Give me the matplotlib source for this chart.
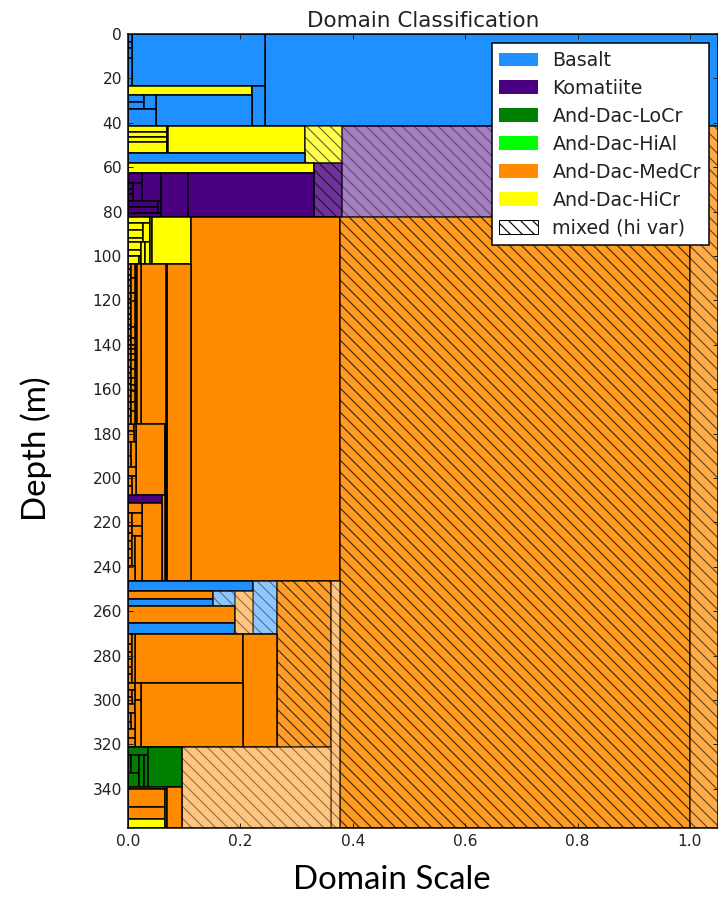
import matplotlib
matplotlib.use('Agg')
import matplotlib.pyplot as plt
from matplotlib.patches import Patch
from matplotlib.colors import to_rgba

# ---------------- data ----------------
# each domain: (scale_start, scale_end, depth_top, depth_bottom, class, mixed_alpha)
# mixed_alpha = 0 -> solid (not mixed); >0 -> mixed (hatched) with that opacity
class_names = ['Basalt', 'Komatiite', 'And-Dac-LoCr', 'And-Dac-HiAl', 'And-Dac-MedCr', 'And-Dac-HiCr']
class_codes = ['B', 'K', 'G', 'L', 'O', 'Y']
class_colors = ['#1E90FF', '#4B0082', '#008000', '#00FF00', '#FF8C00', '#FFFF00']

zone_top = [
    (0.243, 1.10, 0, 41.5, 'B', 0),
    (0.0066, 0.243, 0, 23.5, 'B', 0),
    (0, 0.0066, 0, 3.5, 'B', 0),
    (0, 0.0066, 3.5, 6.5, 'B', 0),
    (0, 0.0066, 6.5, 11, 'B', 0),
    (0, 0.0066, 11, 23.5, 'B', 0),
    (0, 0.221, 23.5, 27.7, 'Y', 0),
    (0.221, 0.243, 23.5, 41.5, 'B', 0),
    (0.05, 0.221, 27.7, 41.5, 'B', 0),
    (0, 0.029, 27.7, 30.8, 'B', 0),
    (0, 0.029, 30.8, 34, 'B', 0),
    (0.029, 0.05, 27.7, 34, 'B', 0),
    (0, 0.05, 34, 41.5, 'B', 0),
]

zone_hicr_kom = [
    (0, 0.069, 41.5, 44, 'Y', 0),
    (0, 0.069, 44, 46.2, 'Y', 0),
    (0, 0.069, 46.2, 48.8, 'Y', 0),
    (0, 0.069, 48.8, 53.5, 'Y', 0),
    (0.069, 0.072, 41.5, 53.5, 'Y', 0),
    (0.072, 0.315, 41.5, 53.5, 'Y', 0),
    (0.315, 0.381, 41.5, 58, 'Y', 0.7),
    (0, 0.315, 53.5, 58, 'B', 0),
    (0, 0.331, 58, 62.8, 'Y', 0),
    (0.331, 0.381, 58, 82.6, 'K', 0.8),
    (0.381, 1.0, 41.5, 82.6, 'K', 0.5),
    (0, 0.025, 62.8, 67.3, 'K', 0),
    (0, 0.0095, 67.3, 69.8, 'K', 0),
    (0, 0.0095, 69.8, 72, 'K', 0),
    (0, 0.0095, 72, 75.2, 'K', 0),
    (0.0095, 0.025, 67.3, 75.2, 'K', 0),
    (0.025, 0.059, 62.8, 75.2, 'K', 0),
    (0, 0.054, 75.2, 77.8, 'K', 0),
    (0, 0.054, 77.8, 80.8, 'K', 0),
    (0.054, 0.059, 75.2, 80.8, 'K', 0),
    (0, 0.059, 80.8, 82.6, 'K', 0),
    (0.059, 0.106, 62.8, 82.6, 'K', 0),
    (0.106, 0.331, 62.8, 82.6, 'K', 0),
]

zone_hicr2 = [
    (0, 0.039, 82.6, 85, 'Y', 0),
    (0, 0.027, 85, 88.3, 'Y', 0),
    (0, 0.027, 88.3, 92, 'Y', 0),
    (0, 0.027, 92, 93.5, 'Y', 0),
    (0.027, 0.039, 85, 93.5, 'Y', 0),
    (0, 0.023, 93.5, 97.3, 'Y', 0),
    (0, 0.023, 97.3, 100, 'Y', 0),
    (0, 0.02, 100, 103.6, 'Y', 0),
    (0.02, 0.023, 100, 103.6, 'Y', 0),
    (0.023, 0.031, 93.5, 103.6, 'Y', 0),
    (0.031, 0.039, 93.5, 103.6, 'Y', 0),
    (0.039, 0.042, 82.6, 103.6, 'Y', 0),
    (0.042, 0.112, 82.6, 103.6, 'Y', 0),
    (0.112, 0.377, 82.6, 246.3, 'O', 0),
    (0.377, 1.0, 82.6, 357.7, 'O', 0.88),
    (1.0, 1.10, 41.5, 357.7, 'O', 0.72),
]

zone_medcr = [
    (0.069, 0.112, 103.6, 246.3, 'O', 0),
    (0.067, 0.069, 103.6, 246.3, 'O', 0),
    (0.0225, 0.067, 103.6, 175.6, 'O', 0),
    (0.0125, 0.016, 103.6, 175.6, 'O', 0),
    (0.016, 0.0225, 103.6, 175.6, 'O', 0),
    (0.0137, 0.065, 175.6, 207.5, 'O', 0),
    (0.065, 0.067, 175.6, 246.3, 'O', 0),
    (0, 0.061, 207.5, 211.5, 'K', 0),
    (0.061, 0.065, 207.5, 246.3, 'O', 0),
    (0.025, 0.061, 211.5, 246.3, 'O', 0),
    (0, 0.01, 175.6, 179, 'O', 0),
    (0.01, 0.0137, 175.6, 184, 'O', 0),
    (0, 0.01, 179, 184, 'O', 0),
    (0, 0.006, 184, 190, 'O', 0),
    (0.006, 0.0137, 184, 195, 'O', 0),
    (0, 0.006, 190, 195, 'O', 0),
    (0, 0.0137, 195, 199, 'O', 0),
    (0, 0.007, 199, 203.5, 'O', 0),
    (0.007, 0.0137, 199, 207.5, 'O', 0),
    (0, 0.007, 203.5, 207.5, 'O', 0),
    (0, 0.025, 211.5, 216, 'O', 0),
    (0, 0.008, 216, 221.5, 'O', 0),
    (0.008, 0.025, 216, 221.5, 'O', 0),
    (0, 0.007, 221.5, 225, 'O', 0),
    (0.007, 0.025, 221.5, 226, 'O', 0),
    (0, 0.007, 225, 228.5, 'O', 0),
    (0, 0.007, 228.5, 232, 'O', 0),
    (0, 0.007, 232, 236, 'O', 0),
    (0, 0.007, 236, 239.5, 'O', 0),
    (0.007, 0.013, 226, 239.5, 'O', 0),
    (0.013, 0.025, 226, 246.3, 'O', 0),
    (0, 0.013, 239.5, 246.3, 'O', 0),
]

# fine MedCr domains in the narrowest scales, 103.6-175.6 m
fine_col1_scale = (0, 0.005)
fine_col1_depths = [103.6, 106, 108.5, 111, 113.5, 116.5, 119.5, 121, 123.5, 126, 128.5,
                    131, 133, 136, 138, 140, 142, 144, 147, 150, 152.5, 155, 157.5,
                    160.5, 163, 166, 169, 172, 175.6]
fine_col2_scale = (0.005, 0.0125)
fine_col2_depths = [103.6, 110, 116.5, 120.5, 132, 137, 140, 142, 144, 147, 151, 155,
                    158, 161, 166, 170, 175.6]

zone_lower = [
    (0, 0.223, 246.3, 251, 'B', 0),
    (0.223, 0.266, 246.3, 270.2, 'B', 0.5),
    (0.266, 0.362, 246.3, 321, 'O', 0.85),
    (0.362, 0.377, 246.3, 357.7, 'O', 0.5),
    (0, 0.151, 251, 254.7, 'O', 0),
    (0, 0.151, 254.7, 257.6, 'B', 0),
    (0.151, 0.19, 251, 257.6, 'B', 0.5),
    (0, 0.19, 257.6, 265.2, 'O', 0),
    (0, 0.19, 265.2, 270.2, 'B', 0),
    (0.19, 0.223, 251, 270.2, 'O', 0.5),
    (0.013, 0.204, 270.2, 292.3, 'O', 0),
    (0.204, 0.266, 270.2, 321, 'O', 0),
    (0.0226, 0.204, 292.3, 321, 'O', 0),
    (0, 0.008, 270.2, 274.8, 'O', 0),
    (0, 0.008, 274.8, 278.5, 'O', 0),
    (0, 0.008, 278.5, 281.5, 'O', 0),
    (0, 0.008, 281.5, 285.3, 'O', 0),
    (0, 0.008, 285.3, 288.3, 'O', 0),
    (0, 0.008, 288.3, 292.3, 'O', 0),
    (0.008, 0.013, 270.2, 292.3, 'O', 0),
    (0, 0.0125, 292.3, 295.5, 'O', 0),
    (0.0125, 0.0226, 292.3, 300, 'O', 0),
    (0, 0.007, 295.5, 298.5, 'O', 0),
    (0.007, 0.0125, 295.5, 302, 'O', 0),
    (0, 0.007, 298.5, 302, 'O', 0),
    (0, 0.0125, 302, 306, 'O', 0),
    (0.0125, 0.0226, 300, 321, 'O', 0),
    (0, 0.006, 306, 310, 'O', 0),
    (0.006, 0.0125, 306, 313, 'O', 0),
    (0, 0.006, 310, 313, 'O', 0),
    (0, 0.0125, 313, 317, 'O', 0),
    (0, 0.0125, 317, 321, 'O', 0),
]

zone_bottom = [
    (0.096, 0.362, 321, 357.7, 'O', 0.5),
    (0, 0.036, 321, 324.8, 'G', 0),
    (0, 0.006, 324.8, 333, 'G', 0),
    (0.006, 0.02, 324.8, 333, 'G', 0),
    (0, 0.02, 333, 339.2, 'G', 0),
    (0.02, 0.028, 324.8, 339.2, 'G', 0),
    (0.028, 0.036, 324.8, 339.2, 'G', 0),
    (0.036, 0.096, 321, 339.2, 'G', 0),
    (0, 0.07, 339.2, 340.3, 'O', 0),
    (0, 0.065, 340.3, 348.2, 'O', 0),
    (0, 0.065, 348.2, 353.5, 'O', 0),
    (0, 0.065, 353.5, 357.7, 'Y', 0),
    (0.065, 0.07, 340.3, 357.7, 'O', 0),
    (0.07, 0.096, 339.2, 357.7, 'O', 0),
]

x_ticks = [0.0, 0.2, 0.4, 0.6, 0.8, 1.0]
y_ticks = list(range(0, 341, 20))

# ---------------- assemble ----------------
domains = zone_top + zone_hicr_kom + zone_hicr2 + zone_medcr + zone_lower + zone_bottom
for d0, d1 in zip(fine_col1_depths[:-1], fine_col1_depths[1:]):
    domains.append((fine_col1_scale[0], fine_col1_scale[1], d0, d1, 'O', 0))
for d0, d1 in zip(fine_col2_depths[:-1], fine_col2_depths[1:]):
    domains.append((fine_col2_scale[0], fine_col2_scale[1], d0, d1, 'O', 0))

cmap = dict(zip(class_codes, class_colors))

DPI = 72
HATCH = '\\\\'
plt.rcParams['hatch.linewidth'] = 1.15
fig = plt.figure(figsize=(718 / DPI, 901 / DPI), dpi=DPI)
ax = fig.add_axes([128 / 718, 1 - 828 / 901, 590 / 718, 794 / 901])

lefts = [d[0] for d in domains]
widths = [d[1] - d[0] for d in domains]
tops = [d[2] for d in domains]
heights = [d[3] - d[2] for d in domains]
faces, edges, hatches = [], [], []
for d in domains:
    a = d[5]
    if a > 0:
        faces.append(to_rgba(cmap[d[4]], a))
        edges.append((0, 0, 0, min(1.0, a * 0.85)))
        hatches.append(HATCH)
    else:
        faces.append(to_rgba(cmap[d[4]], 1.0))
        edges.append((0, 0, 0, 1.0))
        hatches.append(None)

bars = ax.barh(tops, widths, height=heights, left=lefts, align='edge',
               color=faces, edgecolor=edges, linewidth=1.5)
for p, h in zip(bars.patches, hatches):
    if h:
        p.set_hatch(h)

ax.set_xlim(0, 1.05)
ax.set_ylim(357.7, 0)
ax.set_xticks(x_ticks)
ax.set_xticklabels([f'{v:.1f}' for v in x_ticks])
ax.set_yticks(y_ticks)
ax.tick_params(direction='in', top=True, right=True, length=5, width=1,
               labelsize=15.5, pad=6, colors='#222222')
for s in ax.spines.values():
    s.set_linewidth(1.5)

ax.set_title('Domain Classification', fontsize=21.5, pad=7, color='#222222')

handles = [Patch(facecolor=c, edgecolor='none', label=n) for n, c in zip(class_names, class_colors)]
handles.append(Patch(facecolor='white', edgecolor='black', hatch=HATCH, linewidth=1,
                     label='mixed (hi var)'))
leg = ax.legend(handles=handles, loc='upper right', fontsize=19, fancybox=False,
                edgecolor='black', framealpha=1, borderaxespad=0.5, handlelength=2.05,
                handleheight=0.75, handletextpad=0.75, labelspacing=0.47, borderpad=0.4)
leg.get_frame().set_linewidth(1.5)
for t in leg.get_texts():
    t.set_color('#222222')

fig.text(392 / 718, 1 - 880 / 901, 'Domain Scale', fontsize=33, family='Lato',
         ha='center', va='center', color='black')
fig.text(36 / 718, 1 - 449 / 901, 'Depth (m)', fontsize=33, family='Lato', rotation=90,
         ha='center', va='center', color='black')

fig.savefig('out.png', dpi=DPI)
